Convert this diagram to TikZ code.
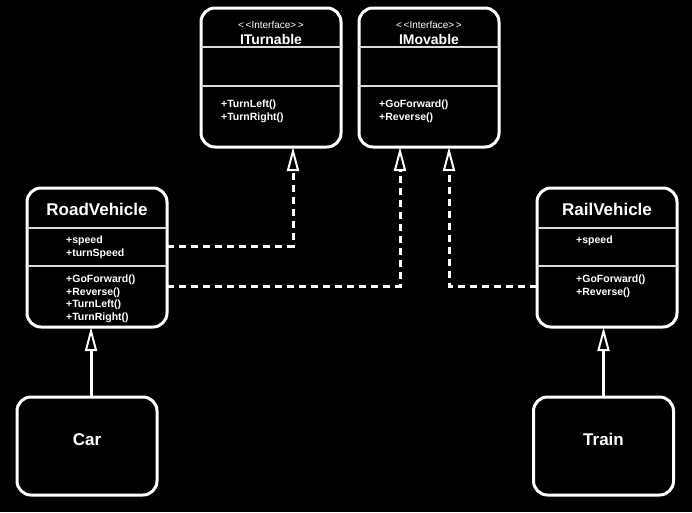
\documentclass[tikz,border=0pt]{standalone}
\usepackage{fontspec}
\setmainfont{Liberation Sans}
\usetikzlibrary{arrows.meta,calc,positioning}
\tikzset{x=1pt, y=-1pt, % one unit is one pixel, y grows downwards
>={Triangle[open, length=24pt, width=12pt, line width=2pt, fill=black]}, % hollow UML head
classbox/.style={draw=white, line width=3pt, rounded corners=14pt, fill=black,
  minimum width=140pt, minimum height=139pt, inner sep=0pt, outer sep=0pt}, % one class
leafbox/.style={classbox, minimum height=98pt}, % the small classes at the bottom
sepline/.style={draw=white!85!black, line width=2pt}, % compartment line
stereo/.style={text=white, font=\fontsize{10}{12}\selectfont},
ititle/.style={text=white, font=\bfseries\fontsize{14}{16}\selectfont},
ctitle/.style={text=white, font=\bfseries\fontsize{17}{20}\selectfont},
members/.style={text=white, font=\bfseries\fontsize{10.5}{12.7}\selectfont,
  align=left, anchor=north west, inner sep=0pt},
realize/.style={->, draw=white, line width=3pt, dash pattern=on 7pt off 5pt}, % implements
inherit/.style={->, draw=white, line width=3pt}, % extends
}

\begin{document}
\begin{tikzpicture}
\fill[black] (0,0) rectangle (692,512);
\useasboundingbox (0,0) rectangle (692,512);

% interfaces
\node[classbox] (it) at (271,77.5) {};
\node[classbox, right=18pt of it] (im) {};
\foreach \n/\t in {it/ITurnable, im/IMovable} {
  \node[stereo] at ($(\n.north)+(0,17)$) {{<}\,{<}Interface{>}\,{>}};
  \node[ititle] at ($(\n.north)+(0,31)$) {\t};
  \draw[sepline] ($(\n.north west)+(0,39)$) -- ($(\n.north east)+(0,39)$);
  \draw[sepline] ($(\n.north west)+(0,78)$) -- ($(\n.north east)+(0,78)$);
}
\node[members] at ($(it.north west)+(20,92)$) {+TurnLeft()\\+TurnRight()};
\node[members] at ($(im.north west)+(20,92)$) {+GoForward()\\+Reverse()};

% vehicles
\node[classbox] (rv) at (97,257.5) {};
\node[classbox] (rail) at (607,257.5) {};
\foreach \n/\t in {rv/RoadVehicle, rail/RailVehicle} {
  \node[ctitle] at ($(\n.north)+(0,21)$) {\t};
  \draw[sepline] ($(\n.north west)+(0,40)$) -- ($(\n.north east)+(0,40)$);
  \draw[sepline] ($(\n.north west)+(0,78)$) -- ($(\n.north east)+(0,78)$);
}
\node[members] at ($(rv.north west)+(39,48)$) {+speed\\+turnSpeed};
\node[members] at ($(rv.north west)+(39,86.5)$) {+GoForward()\\+Reverse()\\+TurnLeft()\\+TurnRight()};
\node[members] at ($(rail.north west)+(39,48)$) {+speed};
\node[members] at ($(rail.north west)+(39,86.5)$) {+GoForward()\\+Reverse()};

% leaves
\node[leafbox, below=70pt of rv, xshift=-10pt] (car) {};
\node[leafbox, below=70pt of rail, xshift=-3.5pt] (train) {};
\node[ctitle] at ($(car)+(0,-6)$) {Car};
\node[ctitle] at ($(train)+(0,-7)$) {Train};

% connectors
\coordinate (rv-t) at ($(rv.east)+(0,-11.5)$);
\coordinate (rv-m) at ($(rv.east)+(0,28.5)$);
\coordinate (rail-m) at ($(rail.west)+(0,28.5)$);
\coordinate (it-in) at ($(it.south)+(22,0)$);
\coordinate (im-in1) at ($(im.south)+(-29,0)$);
\coordinate (im-in2) at ($(im.south)+(20,0)$);
\coordinate (car-up) at ($(car.north)+(4,0)$);
\draw[realize] (rv-t) -| (it-in);
\draw[realize] (rv-m) -| (im-in1);
\draw[realize] (rail-m) -| (im-in2);
\draw[inherit] (car-up) -- (car-up |- rv.south);
\draw[inherit] (train.north) -- (train.north |- rail.south);
\end{tikzpicture}
\end{document}
